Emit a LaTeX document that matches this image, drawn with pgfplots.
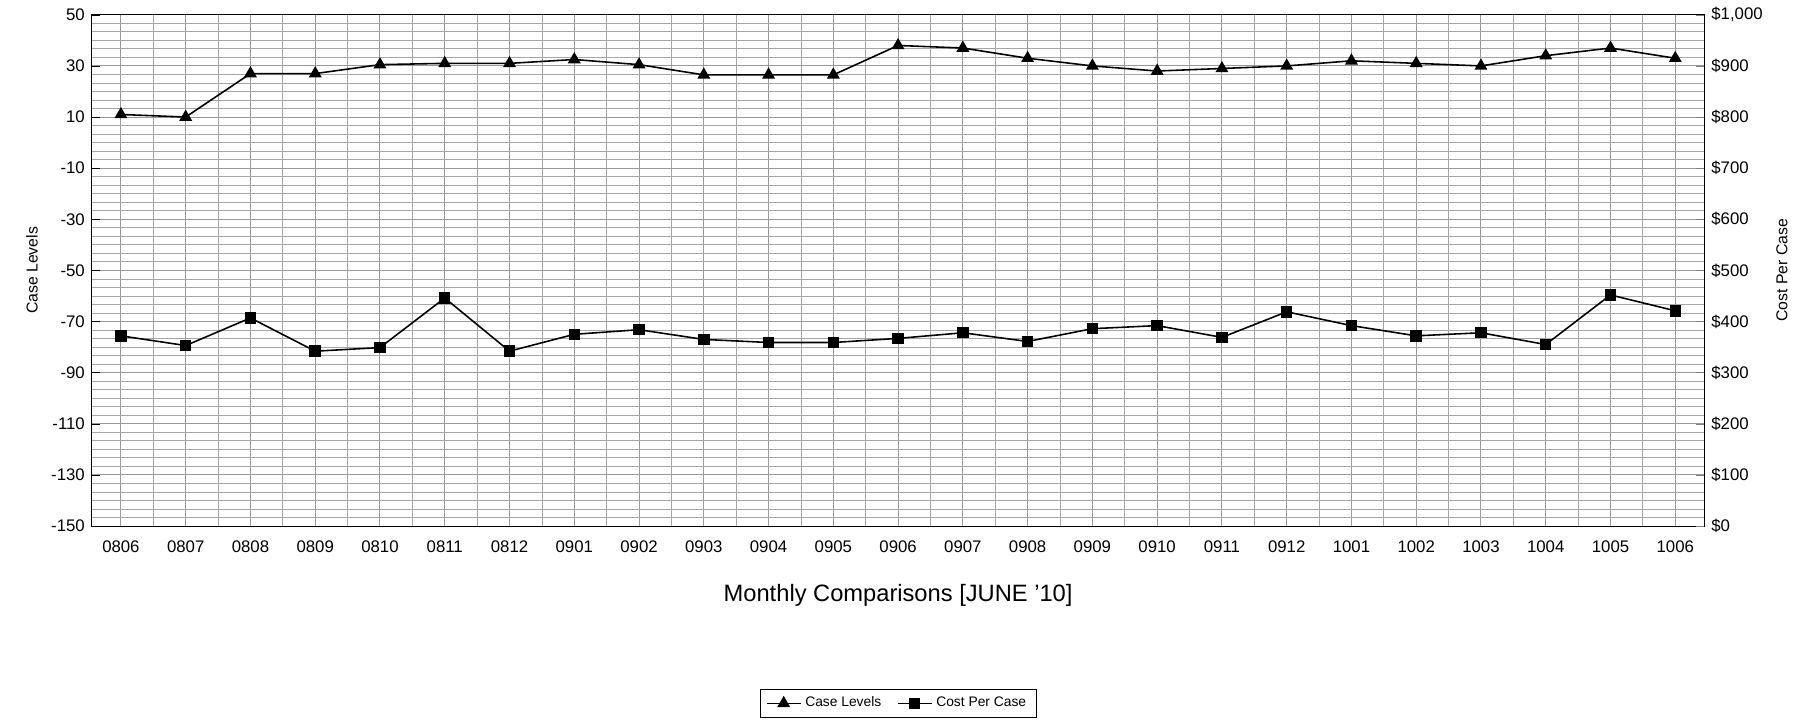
\documentclass[border=0pt]{standalone}
\usepackage{pgfplots}
\pgfplotsset{compat=1.18}
\usepackage{fontspec}
\setmainfont{Liberation Sans}
\begin{document}
\begin{tikzpicture}[x=1pt,y=1pt]
\path (-46.5,-102) rectangle (850.5,266.5);
\pgfplotsset{every axis/.style={scale only axis,width=817pt,height=259pt,at={(0,0)},anchor=south west,
 xmin=-0.45,xmax=24.45, tick label style={font=\fontsize{8.5}{10}\selectfont}, /pgf/number format/assume math mode=true}}
\begin{axis}[
 ymin=-150,ymax=50,ytick={-150,-130,...,50},
 minor y tick num=5,
 xtick={0,...,24},
 xticklabels={0806,0807,0808,0809,0810,0811,0812,0901,0902,0903,0904,0905,0906,0907,0908,0909,0910,0911,0912,1001,1002,1003,1004,1005,1006},
 xticklabel style={yshift=-4pt},
 minor x tick num=1,
 grid=both, major grid style={gray!80,line width=0.5pt}, minor grid style={gray!70,line width=0.4pt},
 ylabel={Case Levels}, ylabel style={font=\fontsize{8}{9}\selectfont},
 xlabel={Monthly Comparisons [JUNE '10]}, xlabel style={font=\fontsize{12}{14}\selectfont,yshift=-9pt},
 axis line style={black}, tick style={black}, xtick style={draw=none}, minor tick style={draw=none},
 legend style={at={(0.5,-0.318)},anchor=north,legend columns=2,font=\fontsize{7}{8}\selectfont,draw=black,/tikz/every even column/.append style={column sep=6pt}},
]
\addplot[black,thick,mark=triangle*,mark size=3pt] coordinates {(0,11)(1,10)(2,27)(3,27)(4,30.5)(5,31)(6,31)(7,32.5)(8,30.5)(9,26.5)(10,26.5)(11,26.5)(12,38)(13,37)(14,33)(15,30)(16,28)(17,29)(18,30)(19,32)(20,31)(21,30)(22,34)(23,37)(24,33)};
\addlegendentry{Case Levels}
\addlegendimage{black,thick,mark=square*,mark size=2.5pt}
\addlegendentry{Cost Per Case}
\end{axis}
\begin{axis}[
 ymin=0,ymax=1000,ytick={0,100,...,1000},axis y line*=right,axis x line=none,
 yticklabel={\$\pgfmathprintnumber[1000 sep={,}]{\tick}},
 ylabel={Cost Per Case}, ylabel style={font=\fontsize{8}{9}\selectfont},
]
\addplot[black,thick,mark=square*,mark size=2.5pt] coordinates {(0,372)(1,353)(2,407)(3,342)(4,349)(5,446)(6,342)(7,375)(8,384)(9,365)(10,359)(11,359)(12,367)(13,378)(14,361)(15,386)(16,392)(17,369)(18,419)(19,392)(20,372)(21,378)(22,355)(23,452)(24,421)};
\end{axis}
\end{tikzpicture}
\end{document}
